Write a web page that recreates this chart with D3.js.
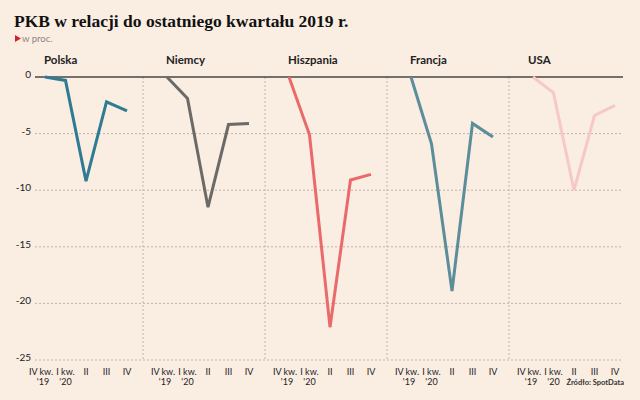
<!DOCTYPE html>
<meta charset="UTF-8">
<html>
	<head>
		<script src="https://d3js.org/d3.v7.min.js"></script>
		<style>
			body { margin: 0; background: #faede2; }
			.Chart text { font-family: Lato, "Open Sans", sans-serif; fill: #222; }
		</style>
	</head>
	<body>
		<svg class="Chart"></svg>
		<script type="text/javascript">
			// dane (w proc. wzgledem IV kw. 2019)
			var Countries = ["Polska", "Niemcy", "Hiszpania", "Francja", "USA"];
			var Quarters = ["IV kw.|'19", "I kw.|'20", "II", "III", "IV"];
			var Polska    = [0, -0.3, -9.2, -2.2, -3.0];
			var Niemcy    = [0, -1.9, -11.5, -4.2, -4.1];
			var Hiszpania = [0, -5.1, -22.1, -9.1, -8.6];
			var Francja   = [0, -5.9, -18.9, -4.1, -5.3];
			var USA       = [0, -1.4, -10.0, -3.4, -2.5];
			var YTicks = [0, -5, -10, -15, -20, -25];
			var Colors = ["#2f7b93", "#6c6a68", "#ea6a6b", "#5b8d9a", "#f6c9c6"];

			var Series = [Polska, Niemcy, Hiszpania, Francja, USA];

			var Width = 640, Height = 400;
			var Svg = d3.select(".Chart").attr("width", Width).attr("height", Height);

			Svg.append("rect").attr("width", Width).attr("height", Height).attr("fill", "#faede2");

			var PanelScale = d3.scaleBand().domain(Countries).range([45, 655]);
			var XScale = d3.scalePoint().domain(Quarters).range([0, 82]);
			var YScale = d3.scaleLinear().domain([-25, 0]).range([360, 77]);

			// tytul
			Svg.append("text")
				.attr("x", 14).attr("y", 27)
				.style("font-family", "'Liberation Serif', serif")
				.style("font-weight", "bold")
				.style("font-size", "17.5px")
				.style("fill", "#111")
				.text("PKB w relacji do ostatniego kwartału 2019 r.");
			Svg.append("path")
				.attr("d", "M15,35 L21,38.5 L15,42 Z")
				.attr("fill", "#d6212a");
			Svg.append("text")
				.attr("x", 22).attr("y", 42)
				.style("font-size", "9.5px")
				.style("fill", "#8a8580")
				.text("w proc.");

			// siatka
			Svg.append("g").selectAll("line")
				.data(YTicks.filter(function(d){ return d !== 0; }))
				.enter().append("line")
				.attr("x1", 35).attr("x2", 623)
				.attr("y1", function(d){ return YScale(d); })
				.attr("y2", function(d){ return YScale(d); })
				.attr("stroke", "#bdb6ae").attr("stroke-width", 1)
				.attr("stroke-dasharray", "2,2");

			Svg.append("g").selectAll("line")
				.data(Countries.slice(1))
				.enter().append("line")
				.attr("x1", function(d){ return PanelScale(d) - 24; })
				.attr("x2", function(d){ return PanelScale(d) - 24; })
				.attr("y1", YScale(0)).attr("y2", YScale(-25))
				.attr("stroke", "#bdb6ae").attr("stroke-width", 1)
				.attr("stroke-dasharray", "2,2");

			Svg.append("line")
				.attr("x1", 35).attr("x2", 623)
				.attr("y1", YScale(0)).attr("y2", YScale(0))
				.attr("stroke", "#4a4642").attr("stroke-width", 1.5);

			// os Y
			Svg.append("g").selectAll("text")
				.data(YTicks)
				.enter().append("text")
				.attr("x", 31)
				.attr("y", function(d){ return YScale(d) + 1; })
				.attr("text-anchor", "end")
				.style("font-size", "10px")
				.text(function(d){ return d; });

			// panele
			var Panels = Svg.selectAll("g.Panel")
				.data(Countries)
				.enter().append("g")
				.attr("class", "Panel")
				.attr("transform", function(d){ return "translate(" + PanelScale(d) + ",0)"; });

			Panels.append("text")
				.attr("x", function(d){ return d === "USA" ? -5 : -1; })
				.attr("y", 64)
				.style("font-size", "11.5px")
				.style("font-weight", "bold")
				.text(function(d){ return d; });

			var Line = d3.line()
				.x(function(d, i){ return XScale(Quarters[i]); })
				.y(function(d){ return YScale(d); });

			Panels.append("path")
				.attr("d", function(d, i){ return Line(Series[i]); })
				.attr("fill", "none")
				.attr("stroke", function(d, i){ return Colors[i]; })
				.attr("stroke-width", 3)
				.attr("stroke-linejoin", "miter");

			Panels.each(function()
			{
				var Axis = d3.select(this).append("g");
				Quarters.forEach(function(q, i)
				{
					var Parts = q.split("|");
					var Shift = (i === 0) ? -4 : 0;
					var T = Axis.append("text")
						.attr("y", 375)
						.attr("text-anchor", "middle")
						.style("font-size", "9px");
					T.append("tspan").attr("x", XScale(q) + Shift).text(Parts[0]);
					if(Parts[1])
					{
						T.append("tspan").attr("x", XScale(q) + Shift / 2).attr("dy", "9.5").text(Parts[1]);
					}
				});
			});

			Svg.append("text")
				.attr("x", 624).attr("y", 385)
				.attr("text-anchor", "end")
				.style("font-size", "7.5px")
				.style("font-weight", "bold")
				.style("fill", "#333")
				.text("Źródło: SpotData");
		</script>
	</body>
</html>
